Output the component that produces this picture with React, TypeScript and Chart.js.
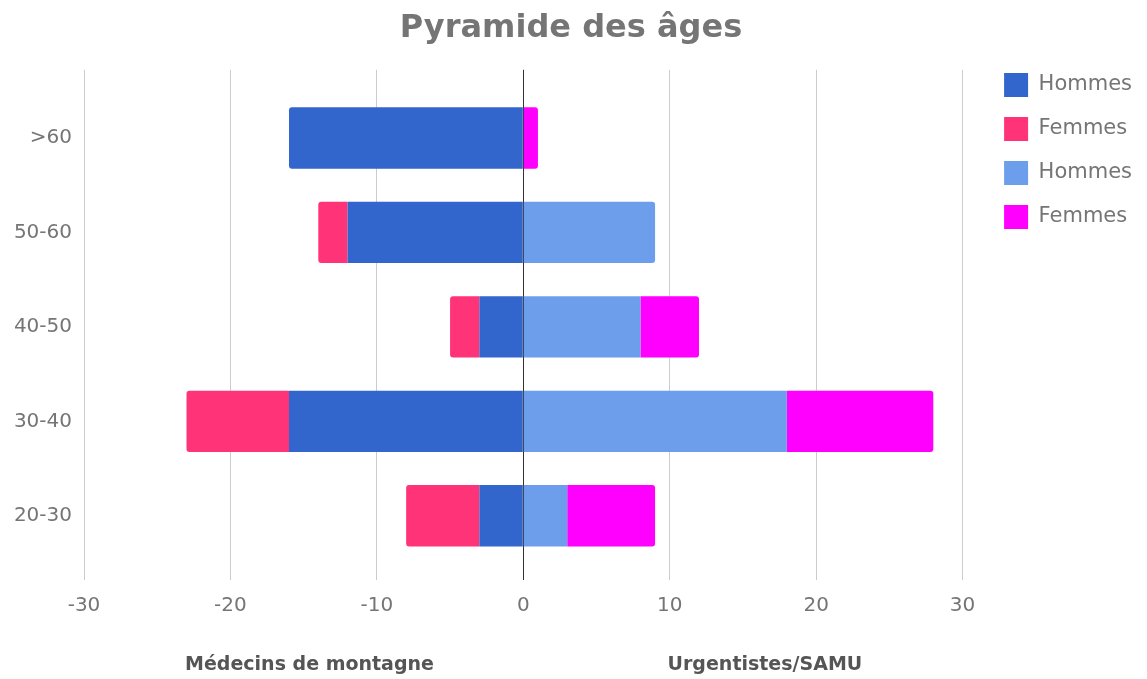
import React, { useEffect, useRef } from "react";
import { Chart, registerables } from "chart.js";

Chart.register(...registerables);

const categories = [">60", "50-60", "40-50", "30-40", "20-30"];
const montagneHommes = [16, 12, 3, 16, 3];
const montagneFemmes = [0, 2, 2, 7, 5];
const urgentistesHommes = [0, 9, 8, 18, 3];
const urgentistesFemmes = [1, 0, 4, 10, 6];
const seriesLabels = ["Hommes", "Femmes", "Hommes", "Femmes"];
const seriesColors = ["#3366cc", "#ff3377", "#6d9eeb", "#ff00ff"];
const xMin = -30;
const xMax = 30;
const xStep = 10;
const groupTitles = [
  { text: "Médecins de montagne", at: -14.6 },
  { text: "Urgentistes/SAMU", at: 16.5 },
];

const FONT = "'DejaVu Sans', sans-serif";

const groupTitlePlugin = {
  id: "groupTitles",
  afterDraw(chart: any) {
    const { ctx, scales } = chart;
    const x = scales.x;
    ctx.save();
    ctx.font = `bold 19px ${FONT}`;
    ctx.fillStyle = "#555555";
    ctx.textAlign = "center";
    ctx.textBaseline = "middle";
    groupTitles.forEach((g) => {
      ctx.fillText(g.text, x.getPixelForValue(g.at), 665);
    });
    ctx.restore();
  },
};

export default function App() {
  const ref = useRef<HTMLCanvasElement | null>(null);

  useEffect(() => {
    if (!ref.current) return;
    const data = [
      montagneHommes.map((v) => -v),
      montagneFemmes.map((v) => -v),
      urgentistesHommes,
      urgentistesFemmes,
    ];
    const chart = new Chart(ref.current, {
      type: "bar",
      data: {
        labels: categories,
        datasets: data.map((d, i) => ({
          label: seriesLabels[i],
          data: d,
          backgroundColor: seriesColors[i],
          borderWidth: 0,
          borderRadius: 3,
          stack: "all",
          categoryPercentage: 1,
          barPercentage: 0.65,
        })),
      },
      options: {
        indexAxis: "y",
        animation: false,
        responsive: true,
        maintainAspectRatio: false,
        layout: { padding: { right: 5 } },
        plugins: {
          title: {
            display: true,
            text: "Pyramide des âges",
            color: "#757575",
            font: { family: FONT, size: 32, weight: "bold", lineHeight: 1 },
            padding: { top: 12.5, bottom: 3 },
          },
          legend: {
            position: "right",
            align: "start",
            title: {
              display: true,
              text: " ",
              font: { family: FONT, size: 10, lineHeight: 1 },
              padding: { top: 43, bottom: 0 },
            },
            labels: {
              boxWidth: 24,
              boxHeight: 24,
              padding: 20,
              color: "#757575",
              font: { family: FONT, size: 21 },
            },
          },
          tooltip: { enabled: false },
        },
        scales: {
          x: {
            type: "linear",
            min: xMin,
            max: xMax,
            stacked: true,
            border: { display: false },
            grid: {
              color: (c: any) => (c.tick && c.tick.value === 0 ? "#333333" : "#cccccc"),
              drawTicks: true,
              tickLength: 17,
            },
            ticks: {
              stepSize: xStep,
              padding: 14,
              color: "#757575",
              font: { family: FONT, size: 20 },
            },
            afterFit: (s: any) => {
              s.height = 116;
            },
          },
          x2: {
            type: "linear",
            position: "top",
            min: xMin,
            max: xMax,
            z: 1,
            border: { display: false },
            grid: {
              drawOnChartArea: true,
              color: (c: any) => (c.tick && c.tick.value === 0 ? "#333333" : "rgba(0,0,0,0)"),
              tickColor: (c: any) => (c.tick && c.tick.value === 0 ? "#333333" : "#cccccc"),
              drawTicks: true,
              tickLength: 21,
            },
            ticks: { display: false, stepSize: xStep },
            afterFit: (s: any) => {
              s.height = 43.25;
            },
          },
          y: {
            type: "category",
            stacked: true,
            border: { display: false },
            grid: { display: false, drawTicks: false },
            ticks: {
              padding: 12,
              color: "#757575",
              font: { family: FONT, size: 20 },
            },
            afterFit: (s: any) => {
              s.width = 84;
            },
          },
          y2: {
            type: "category",
            position: "right",
            border: { display: false },
            grid: { display: false, drawTicks: false },
            ticks: { display: false },
            afterFit: (s: any) => {
              s.width = 21.5;
            },
          },
        },
      },
      plugins: [groupTitlePlugin],
    } as any);
    return () => chart.destroy();
  }, []);

  return (
    <div style={{ position: "fixed", left: 0, top: 0, width: 1147, height: 679 }}>
      <canvas ref={ref} />
    </div>
  );
}
